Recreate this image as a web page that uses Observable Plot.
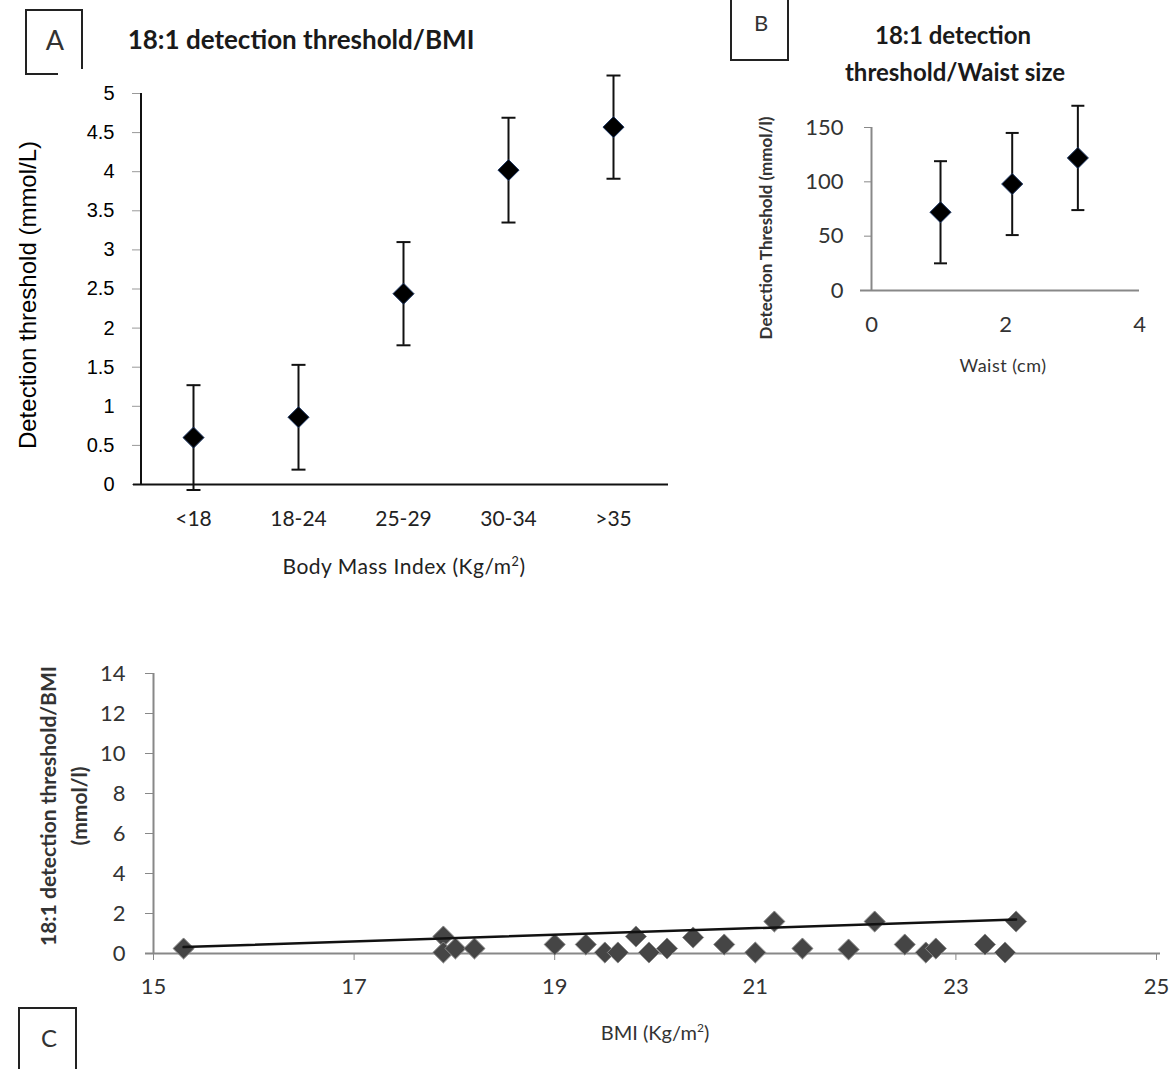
<!DOCTYPE html>
<html>
<head>
<meta charset="utf-8">
<script src="https://cdn.jsdelivr.net/npm/d3@7"></script>
<script src="https://cdn.jsdelivr.net/npm/@observablehq/plot@0.6"></script>
<style>
  html, body { margin: 0; padding: 0; background: #fff; }
  #root { position: relative; width: 1172px; height: 1069px; overflow: hidden; background: #fff; }
  .lbl { position: absolute; white-space: nowrap; transform: translate(-50%, -50%); line-height: 1; }
  .rot { transform: translate(-50%, -50%) rotate(-90deg); }
  .line { position: absolute; background: #222; }
</style>
</head>
<body>
<div id="root"></div>
<script>
// ---------- Data ----------
// Panel A: detection threshold by BMI category
const bmiCategories = ["<18", "18-24", "25-29", "30-34", ">35"];
const bmiMeans = [0.60, 0.86, 2.44, 4.02, 4.57];
const bmiErrors = [0.67, 0.67, 0.66, 0.67, 0.66];
const ticksA = [0, 0.5, 1, 1.5, 2, 2.5, 3, 3.5, 4, 4.5, 5];

// Panel B: detection threshold by waist size
const waistX = [1.03, 2.1, 3.08];
const waistMeans = [72, 98, 122];
const waistErrors = [47, 47, 48];
const ticksBx = [0, 2, 4];
const ticksBy = [0, 50, 100, 150];

// Panel C: individual detection threshold vs BMI
const bmiValues = [15.3, 17.89, 17.89, 18.01, 18.2, 19.0, 19.31, 19.5, 19.63, 19.81, 19.94, 20.12, 20.38, 20.69, 21.0, 21.19, 21.47, 21.93, 22.19, 22.49, 22.7, 22.8, 23.29, 23.49, 23.6];
const thresholdValues = [0.25, 0.85, 0.05, 0.25, 0.25, 0.45, 0.45, 0.05, 0.05, 0.85, 0.05, 0.25, 0.8, 0.45, 0.05, 1.6, 0.25, 0.2, 1.6, 0.45, 0.05, 0.25, 0.45, 0.05, 1.6];
const trendX = [15.3, 23.6];
const trendY = [0.32, 1.70];
const ticksCx = [15, 17, 19, 21, 23, 25];
const ticksCy = [0, 2, 4, 6, 8, 10, 12, 14];

// ---------- Helpers ----------
const root = document.getElementById("root");
const CAL = "Lato, 'Open Sans', sans-serif";
const ARIAL = "'Liberation Sans', Arial, sans-serif";

function place(el, left, top) {
  el.style.position = "absolute";
  el.style.left = left + "px";
  el.style.top = top + "px";
  root.appendChild(el);
}
function text(str, x, y, css, rotate) {
  const d = document.createElement("div");
  d.className = "lbl" + (rotate ? " rot" : "");
  d.innerHTML = str;
  d.style.left = x + "px";
  d.style.top = y + "px";
  Object.assign(d.style, css);
  root.appendChild(d);
  return d;
}
function seg(x1, y1, x2, y2, w) {
  const d = document.createElement("div");
  d.className = "line";
  const t = w || 2;
  d.style.left = Math.min(x1, x2) + "px";
  d.style.top = Math.min(y1, y2) + "px";
  d.style.width = (x1 === x2 ? t : Math.abs(x2 - x1)) + "px";
  d.style.height = (y1 === y2 ? t : Math.abs(y2 - y1)) + "px";
  root.appendChild(d);
}
const cap = {
  draw(ctx, size) {
    const w = Math.sqrt(size / Math.PI);
    ctx.moveTo(-w, 0);
    ctx.lineTo(w, 0);
  }
};

// ---------- Panel A ----------
const dataA = bmiCategories.map((c, i) => ({c, m: bmiMeans[i], lo: bmiMeans[i] - bmiErrors[i], hi: bmiMeans[i] + bmiErrors[i]}));
const plotA = Plot.plot({
  width: 700, height: 600,
  marginLeft: 140, marginRight: 35, marginTop: 93, marginBottom: 116,
  style: {overflow: "visible", background: "transparent"},
  x: {type: "point", domain: bmiCategories, padding: 0.5, label: null},
  y: {domain: [0, 5], label: null},
  marks: [
    Plot.axisY(ticksA, {tickSize: 8, tickPadding: 18, stroke: "#999", fill: "#000", fontSize: 20, fontFamily: ARIAL, tickFormat: d => String(d), label: null}),
    Plot.ruleX([0], {x: () => bmiCategories[0], y1: 0, y2: 5, stroke: "#111", strokeWidth: 2, dx: -52.5}),
    Plot.axisX({tickSize: 0, tickPadding: 27, fill: "#222", fontSize: 21, fontFamily: CAL, label: null}),
    Plot.ruleY([0], {stroke: "#111", strokeWidth: 2, insetLeft: -7, insetRight: -3}),
    Plot.ruleX(dataA, {x: "c", y1: "lo", y2: "hi", stroke: "#111", strokeWidth: 2}),
    Plot.dot(dataA, {x: "c", y: "lo", symbol: cap, r: 7, stroke: "#111", strokeWidth: 2}),
    Plot.dot(dataA, {x: "c", y: "hi", symbol: cap, r: 7, stroke: "#111", strokeWidth: 2}),
    Plot.dot(dataA, {x: "c", y: "m", symbol: "diamond2", r: 9.5, fill: "#000", stroke: "#1f3864", strokeWidth: 1})
  ]
});
place(plotA, 0, 0);

// ---------- Panel B ----------
const dataB = waistX.map((x, i) => ({x, m: waistMeans[i], lo: waistMeans[i] - waistErrors[i], hi: waistMeans[i] + waistErrors[i]}));
const plotB = Plot.plot({
  width: 452, height: 400,
  marginLeft: 151, marginRight: 33, marginTop: 127, marginBottom: 110,
  style: {overflow: "visible", background: "transparent"},
  x: {domain: [0, 4], label: null},
  y: {domain: [0, 150], label: null},
  marks: [
    Plot.axisY(ticksBy, {tickSize: 7, tickPadding: 21, stroke: "#888", fill: "#333", fontSize: 22, fontFamily: CAL, label: null}),
    Plot.axisX(ticksBx, {tickSize: 0, tickPadding: 26, fill: "#333", fontSize: 22, fontFamily: CAL, label: null}),
    Plot.ruleX([0], {stroke: "#888", strokeWidth: 2}),
    Plot.ruleY([0], {stroke: "#888", strokeWidth: 2, insetLeft: -11}),
    Plot.ruleX(dataB, {x: "x", y1: "lo", y2: "hi", stroke: "#111", strokeWidth: 2}),
    Plot.dot(dataB, {x: "x", y: "lo", symbol: cap, r: 6.5, stroke: "#111", strokeWidth: 2}),
    Plot.dot(dataB, {x: "x", y: "hi", symbol: cap, r: 6.5, stroke: "#111", strokeWidth: 2}),
    Plot.dot(dataB, {x: "x", y: "m", symbol: "diamond2", r: 9.5, fill: "#000", stroke: "#1f3864", strokeWidth: 1})
  ]
});
place(plotB, 720, 0);

// ---------- Panel C ----------
const dataC = bmiValues.map((b, i) => ({b, t: thresholdValues[i]}));
const trendC = trendX.map((x, i) => ({x, y: trendY[i]}));
const plotC = Plot.plot({
  width: 1172, height: 429,
  marginLeft: 153, marginRight: 16, marginTop: 33, marginBottom: 116,
  style: {overflow: "visible", background: "transparent"},
  x: {domain: [15, 25], label: null},
  y: {domain: [0, 14], label: null},
  marks: [
    Plot.axisY(ticksCy, {tickSize: 8, tickPadding: 20, stroke: "#888", fill: "#333", fontSize: 22, fontFamily: CAL, label: null}),
    Plot.axisX(ticksCx, {tickSize: 7, tickPadding: 18, stroke: "#888", fill: "#333", fontSize: 22, fontFamily: CAL, label: null}),
    Plot.ruleX([15], {stroke: "#888", strokeWidth: 2}),
    Plot.ruleY([0], {stroke: "#888", strokeWidth: 2, insetLeft: -8, insetRight: -4}),
    Plot.dot(dataC, {x: "b", y: "t", symbol: "diamond2", r: 9.5, fill: "#454545", stroke: "#8a8a8a", strokeWidth: 1}),
    Plot.line(trendC, {x: "x", y: "y", stroke: "#111", strokeWidth: 2.5})
  ]
});
place(plotC, 0, 640);

// ---------- Titles, axis titles and panel boxes ----------
// Box A
seg(25, 9, 83, 9); seg(25, 9, 25, 74); seg(25, 73, 58, 73); seg(81, 9, 81, 69);
text("A", 55, 39, {fontFamily: CAL, fontSize: "27px", color: "#333"});
text("18:1 detection threshold/BMI", 301, 39, {fontFamily: CAL, fontSize: "26px", fontWeight: "bold", color: "#1a1a1a"});
text("Detection threshold (mmol/L)", 28, 295, {fontFamily: ARIAL, fontSize: "24px", color: "#000"}, true);
text("Body Mass Index (Kg/m<sup style='font-size:0.6em'>2</sup>)", 404, 565, {fontFamily: CAL, fontSize: "21px", color: "#222", letterSpacing: "0.5px"});

// Box B
seg(730, 0, 730, 60); seg(730, 59, 789, 59); seg(787, 0, 787, 60);
text("B", 761, 23, {fontFamily: CAL, fontSize: "22px", color: "#333"});
text("18:1 detection", 953, 35, {fontFamily: CAL, fontSize: "24px", fontWeight: "bold", color: "#1a1a1a"});
text("threshold/Waist size", 955, 72, {fontFamily: CAL, fontSize: "24px", fontWeight: "bold", color: "#1a1a1a"});
text("Detection Threshold (mmol/l)", 765, 228, {fontFamily: CAL, fontSize: "17px", fontWeight: "bold", color: "#333"}, true);
text("Waist (cm)", 1003, 365, {fontFamily: CAL, fontSize: "18px", color: "#333", letterSpacing: "0.5px"});

// Box C
seg(18, 1007, 18, 1069); seg(18, 1007, 77, 1007); seg(75, 1007, 75, 1069);
text("C", 49, 1038, {fontFamily: CAL, fontSize: "24px", color: "#333"});
text("18:1 detection threshold/BMI", 47, 806, {fontFamily: CAL, fontSize: "21px", fontWeight: "bold", color: "#333"}, true);
text("(mmol/l)", 78, 806, {fontFamily: CAL, fontSize: "21px", fontWeight: "bold", color: "#333"}, true);
text("BMI (Kg/m<sup style='font-size:0.6em'>2</sup>)", 655, 1032, {fontFamily: CAL, fontSize: "20px", color: "#333"});
</script>
</body>
</html>
